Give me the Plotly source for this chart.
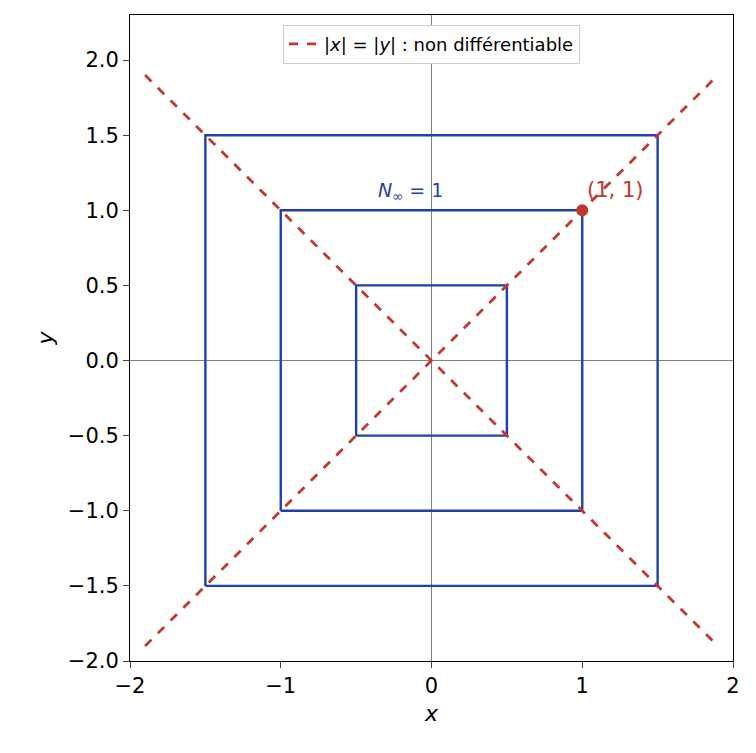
import plotly.graph_objects as go

levels = [0.5, 1.0, 1.5]
diag_x = [-1.9, 1.9]
diag_y_pos = [-1.9, 1.9]
diag_y_neg = [1.9, -1.9]
point_x = [1.0]
point_y = [1.0]
xticks = [-2, -1, 0, 1, 2]
yticks = [-2.0, -1.5, -1.0, -0.5, 0.0, 0.5, 1.0, 1.5, 2.0]

blue = "#1f3fad"
red = "#c0392b"

fig = go.Figure()
for r in levels:
    fig.add_trace(go.Scatter(
        x=[-r, r, r, -r, -r], y=[-r, -r, r, r, -r], mode="lines",
        line=dict(color=blue, width=2.4), showlegend=False, hoverinfo="skip"))
fig.add_trace(go.Scatter(
    x=diag_x, y=diag_y_pos, mode="lines", line=dict(color=red, width=2.8, dash="dash"),
    name="|<i>x</i>| = |<i>y</i>| : non différentiable"))
fig.add_trace(go.Scatter(
    x=diag_x, y=diag_y_neg, mode="lines", line=dict(color=red, width=2.8, dash="dash"),
    showlegend=False))
fig.add_trace(go.Scatter(
    x=point_x, y=point_y, mode="markers", marker=dict(color=red, size=12),
    showlegend=False))

fig.add_annotation(x=-0.14, y=1.03, text="<i>N</i><sub>∞</sub> = 1", showarrow=False,
                   yanchor="bottom", font=dict(color=blue, size=19))
fig.add_annotation(x=1.02, y=1.04, text="(1, 1)", showarrow=False,
                   xanchor="left", yanchor="bottom", font=dict(color=red, size=21))

axis = dict(showgrid=False, ticks="outside", ticklen=6, tickwidth=1.2, linecolor="black",
            mirror=True, showline=True, zeroline=True, zerolinecolor="gray",
            zerolinewidth=1, tickfont=dict(size=21, color="black"))
fig.update_xaxes(range=[-2, 2], tickvals=xticks, ticktext=[str(t).replace("-", "−") for t in xticks],
                 title=dict(text="<i>x</i>", font=dict(size=22), standoff=8), **axis)
fig.update_yaxes(range=[-2, 2.3], tickvals=yticks,
                 ticktext=[f"{t:.1f}".replace("-", "−") for t in yticks],
                 title=dict(text="<i>y</i>", font=dict(size=22), standoff=8), **axis)

fig.update_layout(
    width=756, height=753, plot_bgcolor="white", paper_bgcolor="white",
    margin=dict(l=122, r=31, t=7, b=100),
    font=dict(family="DejaVu Sans", color="black"),
    legend=dict(x=0.5, y=0.985, xanchor="center", yanchor="top",
                bordercolor="#cccccc", borderwidth=1, bgcolor="white",
                font=dict(size=18)),
)

fig.write_html("out.html")
